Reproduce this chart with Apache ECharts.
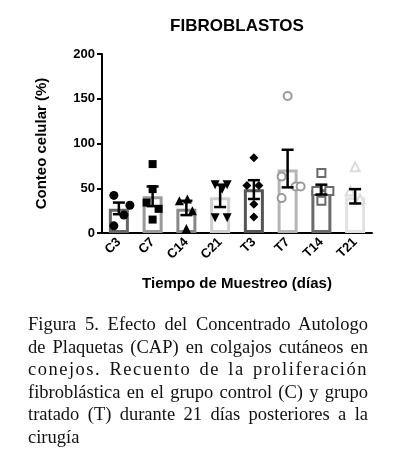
<!DOCTYPE html>
<html>
<head>
<meta charset="utf-8">
<script src="https://cdn.jsdelivr.net/npm/echarts@6/dist/echarts.min.js"></script>
<style>
  html, body { margin: 0; padding: 0; background: #fff; }
  #chart { width: 395px; height: 467px; position: absolute; left: 0; top: 0; }
  #caption {
    position: absolute; left: 28px; top: 313px; width: 340px;
    font-family: "Liberation Serif", "Times New Roman", serif;
    font-size: 18.5px; line-height: 22.6px; color: #111;
  }
  #caption div { text-align: justify; text-align-last: justify; white-space: nowrap; }
  #caption div.spaced { letter-spacing: 1.5px; }
  #caption div.last { text-align-last: left; }
</style>
</head>
<body>
<div id="chart"></div>
<div id="caption">
  <div>Figura 5. Efecto del Concentrado Autologo</div>
  <div>de Plaquetas (CAP) en colgajos cutáneos en</div>
  <div class="spaced">conejos. Recuento de la proliferación</div>
  <div>fibroblástica en el grupo control (C) y grupo</div>
  <div>tratado (T) durante 21 días posteriores a la</div>
  <div class="last">cirugía</div>
</div>
<script>
const categories = ['C3', 'C7', 'C14', 'C21', 'T3', 'T7', 'T14', 'T21']
const means = [27, 41, 27, 40, 49, 71, 49, 40]
const errLow = [21, 30, 20, 29, 38, 51, 43, 33]
const errHigh = [34, 52, 36, 54, 59, 93, 54, 49]

// individual observations per group
const pointsC3 = [42, 8, 20, 31]
const pointsC7 = [77, 49, 34, 27, 15]
const pointsC14 = [36, 38, 25, 5]
const pointsC21 = [54, 54, 49, 17, 17]
const pointsT3 = [84, 53, 53, 32, 18]
const pointsT7 = [153, 63, 39, 52, 52]
const pointsT14 = [67, 47, 47, 36]
const pointsT21 = [74, 47, 38]
const yTicks = [0, 50, 100, 150, 200]

// horizontal scatter (px) so points don't overlap
const jitter = [
  [-5, -5, 5, 11],
  [0, 0, -6, 6, 0],
  [-7, 1, 6, 0],
  [-5, 7, 2, -5, 7],
  [0, -7, 5, 0, 0],
  [0, -6, -6, 8, 13],
  [0, -5, 8, 0],
  [0, -5, 5]
]

const barColors = ['#666', '#9a9a9a', '#888', '#cfcfcf', '#555', '#b5b5b5', '#6a6a6a', '#e2e2e2']
const groups = [
  { pts: pointsC3, symbol: 'circle', size: 9, fill: '#000', stroke: '#000' },
  { pts: pointsC7, symbol: 'rect', size: 8, fill: '#000', stroke: '#000' },
  { pts: pointsC14, symbol: 'triangle', size: 9, fill: '#000', stroke: '#000' },
  { pts: pointsC21, symbol: 'triangle', size: 9, fill: '#000', stroke: '#000', rotate: 180 },
  { pts: pointsT3, symbol: 'diamond', size: 9, fill: '#000', stroke: '#000' },
  { pts: pointsT7, symbol: 'circle', size: 8, fill: '#fff', stroke: '#9a9a9a' },
  { pts: pointsT14, symbol: 'rect', size: 8, fill: '#fff', stroke: '#6a6a6a' },
  { pts: pointsT21, symbol: 'triangle', size: 9, fill: '#fff', stroke: '#dcdcdc' }
]

const myChart = echarts.init(document.getElementById('chart'))
const font = 'Liberation Sans, Arial, sans-serif'

const scatterSeries = groups.map(function (g, i) {
  return {
    type: 'scatter',
    z: 3,
    symbol: g.symbol,
    symbolSize: g.size,
    symbolRotate: g.rotate || 0,
    itemStyle: { color: g.fill, borderColor: g.stroke, borderWidth: g.fill === '#fff' ? 2 : 0, opacity: 1 },
    data: g.pts.map(function (v, k) {
      return { value: [i, v], symbolOffset: [jitter[i][k], 0] }
    })
  }
})

let option = {
  animation: false,
  title: {
    text: 'FIBROBLASTOS',
    left: 232, top: 13, textAlign: 'center',
    textStyle: { fontFamily: font, fontSize: 17, fontWeight: 'bold', color: '#000' }
  },
  grid: { left: 102, right: 23, top: 54, bottom: 234 },
  xAxis: {
    type: 'category',
    data: categories,
    name: 'Tiempo de Muestreo (días)',
    nameLocation: 'middle',
    nameGap: 43,
    nameTextStyle: { fontFamily: font, fontSize: 15, fontWeight: 'bold', color: '#000' },
    axisLine: { lineStyle: { color: '#000', width: 2 } },
    axisTick: { alignWithLabel: true, length: 5, lineStyle: { color: '#000', width: 2 } },
    axisLabel: { rotate: 45, margin: 7, fontFamily: font, fontSize: 13, fontWeight: 'bold', color: '#000' }
  },
  yAxis: {
    type: 'value',
    min: 0, max: 200, interval: 50,
    name: 'Conteo celular (%)',
    nameLocation: 'middle',
    nameGap: 53,
    nameTextStyle: { fontFamily: font, fontSize: 15, fontWeight: 'bold', color: '#000' },
    axisLine: { show: true, lineStyle: { color: '#000', width: 2 } },
    axisTick: { show: true, length: 5, lineStyle: { color: '#000', width: 2 } },
    axisLabel: {
      fontFamily: font, fontSize: 13, fontWeight: 'bold', color: '#000', margin: 7,
      formatter: function (v) { return yTicks.indexOf(v) >= 0 ? String(v) : '' }
    },
    splitLine: { show: false }
  },
  series: [
    {
      type: 'bar',
      z: 2,
      barWidth: 20,
      data: means.map(function (v, i) {
        return { value: v, itemStyle: { color: '#fff', borderColor: barColors[i], borderWidth: 3 } }
      })
    }
  ].concat(scatterSeries).concat([
    {
      type: 'custom',
      z: 5,
      data: categories.map(function (c, i) { return [i, errLow[i], errHigh[i]] }),
      renderItem: function (params, api) {
        const lo = api.coord([api.value(0), api.value(1)])
        const hi = api.coord([api.value(0), api.value(2)])
        const half = 6
        const st = { stroke: '#000', lineWidth: 2.5 }
        return {
          type: 'group',
          children: [
            { type: 'line', shape: { x1: hi[0], y1: hi[1], x2: lo[0], y2: lo[1] }, style: st },
            { type: 'line', shape: { x1: hi[0] - half, y1: hi[1], x2: hi[0] + half, y2: hi[1] }, style: st },
            { type: 'line', shape: { x1: lo[0] - half, y1: lo[1], x2: lo[0] + half, y2: lo[1] }, style: st }
          ]
        }
      }
    }
  ])
}

myChart.setOption(option)
</script>
</body>
</html>
